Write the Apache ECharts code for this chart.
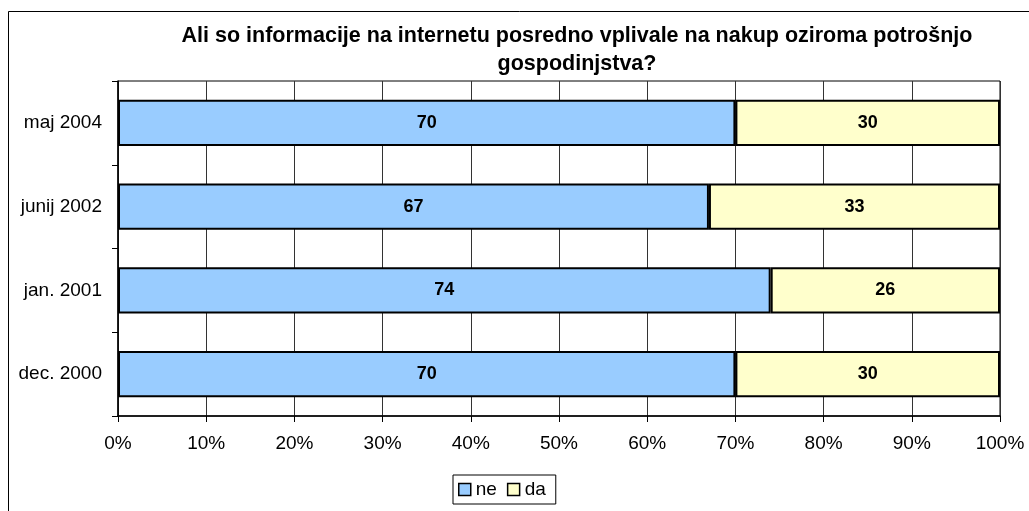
<!DOCTYPE html>
<html>
<head>
<meta charset="utf-8">
<script src="https://cdn.jsdelivr.net/npm/echarts@6/dist/echarts.min.js"></script>
<style>
  html, body { margin: 0; padding: 0; background: #fff; }
  #chart { width: 1029px; height: 511px; }
</style>
</head>
<body>
<div id="chart"></div>
<script>
// categories listed bottom to top (category axis runs upward)
const categories = ["dec. 2000", "jan. 2001", "junij 2002", "maj 2004"];
const neValues = [70, 74, 67, 70];
const daValues = [30, 26, 33, 30];
const xTicks = [0, 10, 20, 30, 40, 50, 60, 70, 80, 90, 100];

const FONT = '"Liberation Sans", Arial, sans-serif';

const chart = echarts.init(document.getElementById("chart"));

const labelStyle = {
  show: true,
  position: "inside",
  color: "#000",
  fontFamily: FONT,
  fontWeight: "bold",
  fontSize: 18,
};

const option = {
  animation: false,
  backgroundColor: "#fff",
  title: {
    text: "Ali so informacije na internetu posredno vplivale na nakup oziroma potrošnjo\ngospodinjstva?",
    left: 572,
    top: 17,
    textAlign: "center",
    textStyle: {
      fontFamily: FONT,
      fontWeight: "bold",
      fontSize: 21.5,
      lineHeight: 28,
      color: "#000",
    },
  },
  legend: {
    bottom: 7,
    left: 453,
    itemWidth: 12,
    itemHeight: 12,
    itemGap: 10,
    padding: [5, 10, 5, 5],
    borderColor: "#000",
    borderWidth: 1,
    borderRadius: 0,
    icon: "rect",
    itemStyle: { borderColor: "#000", borderWidth: 1.5 },
    textStyle: {
      fontFamily: FONT,
      fontSize: 19,
      color: "#000",
      padding: [0, 0, 0, 0],
    },
    data: ["ne", "da"],
  },
  grid: {
    left: 118,
    right: 29,
    top: 81,
    bottom: 95,
    show: true,
    borderColor: "#000",
    borderWidth: 1,
  },
  xAxis: {
    type: "value",
    min: 0,
    max: 100,
    interval: 10,
    axisLine: { show: true, lineStyle: { color: "#000", width: 1.5 } },
    axisTick: { show: true, length: 6, inside: false, lineStyle: { color: "#000" } },
    axisLabel: {
      formatter: (v) => (xTicks.includes(v) ? v + "%" : ""),
      color: "#000",
      fontFamily: FONT,
      fontSize: 19,
      margin: 18,
    },
    splitLine: { show: true, lineStyle: { color: "#333", width: 1 } },
  },
  yAxis: {
    type: "category",
    data: categories,
    axisLine: { show: true, lineStyle: { color: "#000", width: 1.5 } },
    axisTick: { show: true, length: 6, alignWithLabel: false, lineStyle: { color: "#000" } },
    axisLabel: {
      color: "#000",
      fontFamily: FONT,
      fontSize: 19,
      margin: 16,
    },
    splitLine: { show: false },
  },
  series: [
    {
      name: "ne",
      type: "bar",
      stack: "total",
      barWidth: "55%",
      data: neValues,
      itemStyle: { color: "#99ccff", borderColor: "#000", borderWidth: 2 },
      label: labelStyle,
    },
    {
      name: "da",
      type: "bar",
      stack: "total",
      barWidth: "55%",
      data: daValues,
      itemStyle: { color: "#ffffcc", borderColor: "#000", borderWidth: 2 },
      label: labelStyle,
    },
  ],
  graphic: [
    {
      type: "rect",
      shape: { x: 8.5, y: 11.5, width: 1100, height: 600 },
      style: { fill: null, stroke: "#000", lineWidth: 1 },
      silent: true,
      z: 100,
    },
  ],
};

chart.setOption(option);
</script>
</body>
</html>
